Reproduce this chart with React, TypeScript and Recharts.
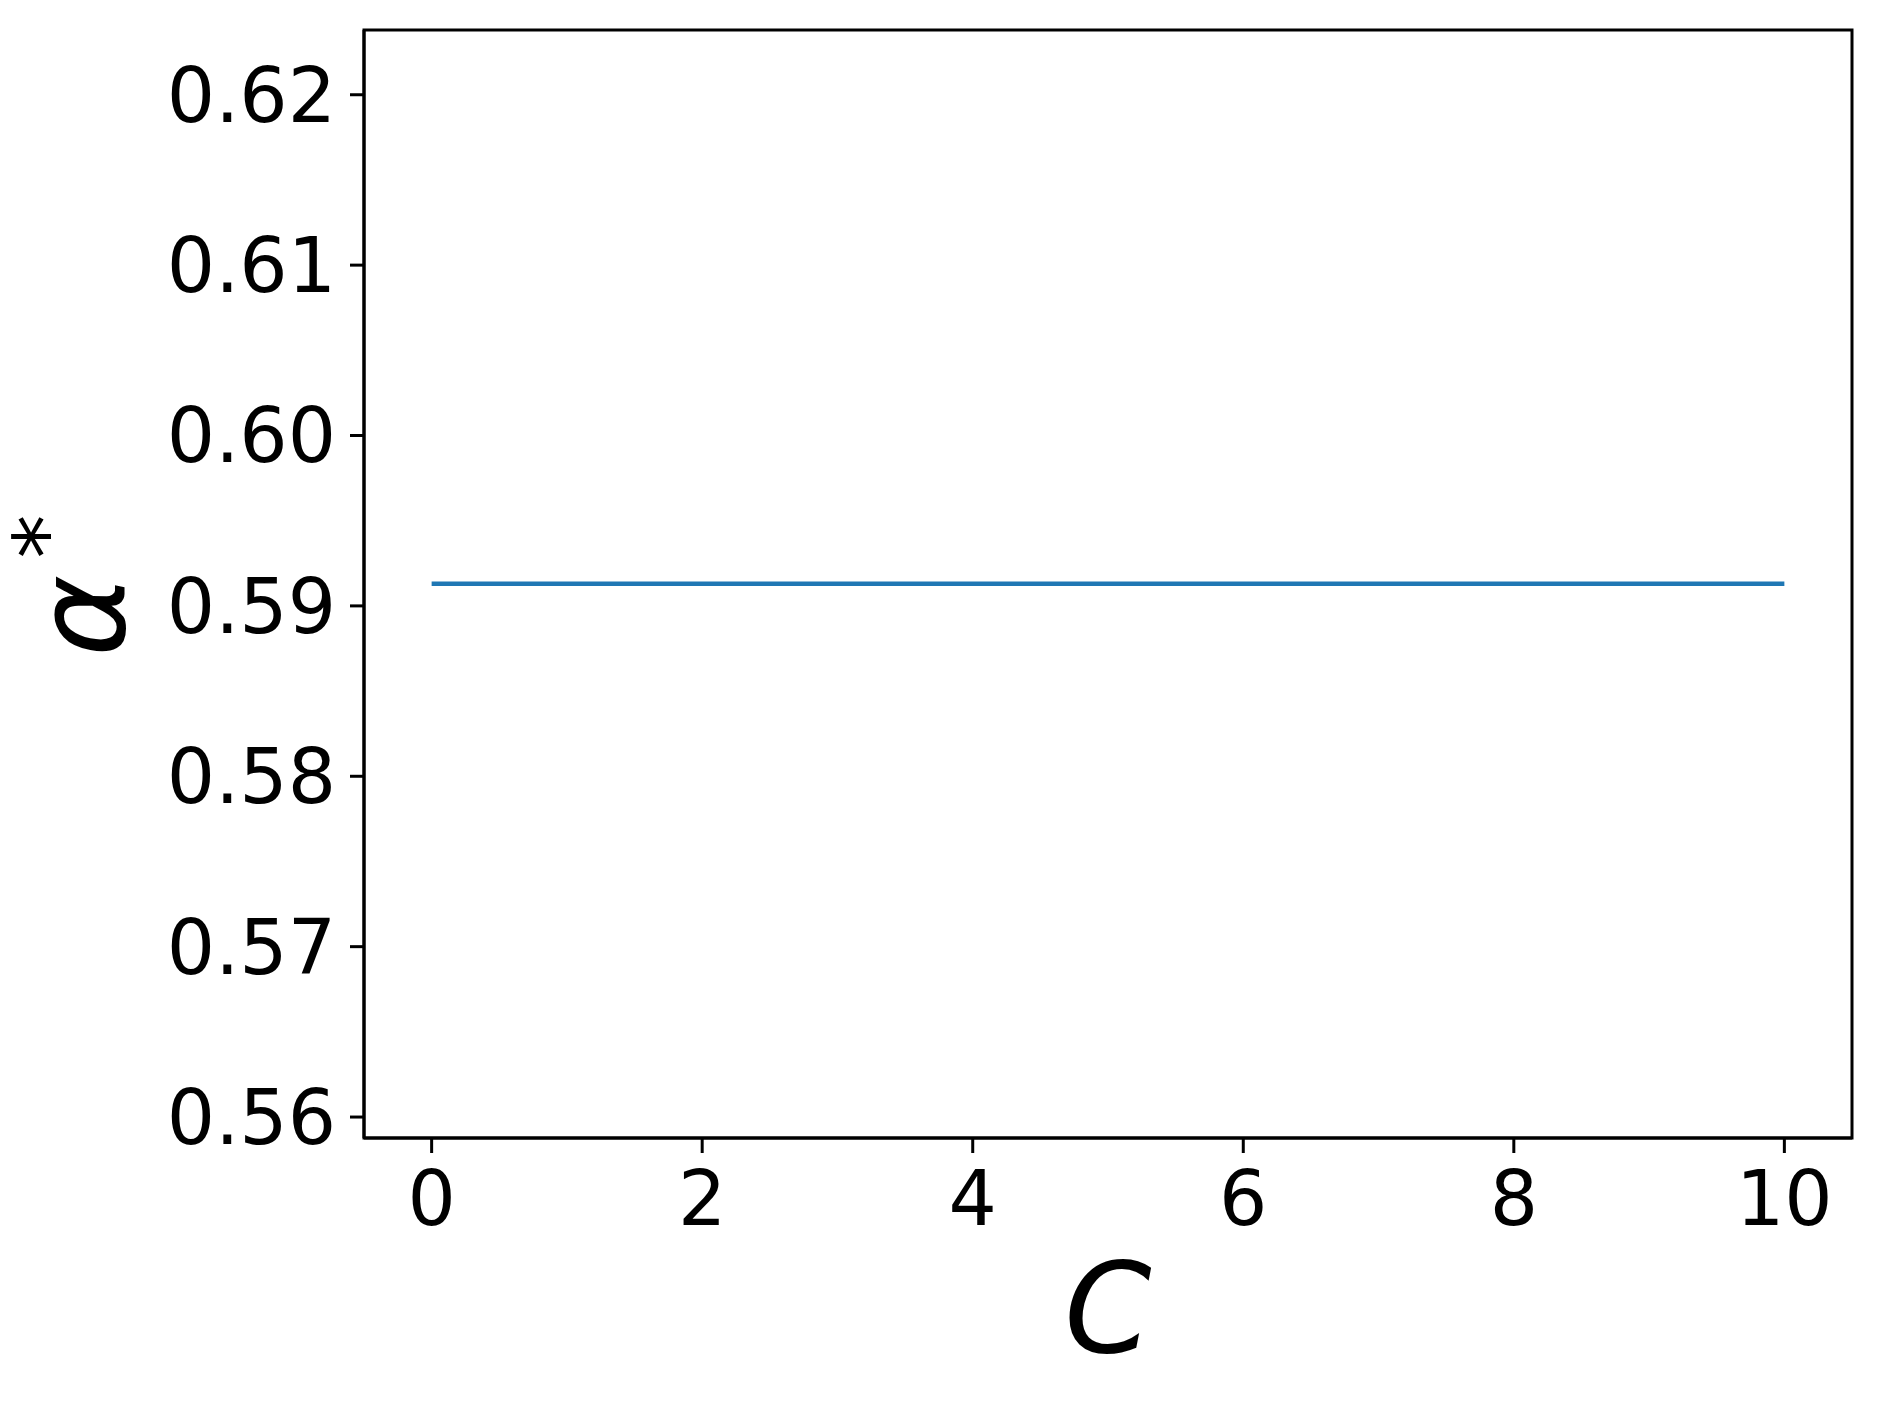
import { LineChart, Line, XAxis, YAxis, ReferenceArea } from "recharts"

const cValues = [0, 1, 2, 3, 4, 5, 6, 7, 8, 9, 10]
const alphaStar = [0.5913, 0.5913, 0.5913, 0.5913, 0.5913, 0.5913, 0.5913, 0.5913, 0.5913, 0.5913, 0.5913]
const xTicks = [0, 2, 4, 6, 8, 10]
const yTicks = [0.56, 0.57, 0.58, 0.59, 0.6, 0.61, 0.62]
const xDomain = [-0.5, 10.5]
const yDomain = [0.55877, 0.6238]

const FONT = "DejaVu Sans"

const data = cValues.map((c, i) => ({ c, alpha: alphaStar[i] }))

export default function App() {
  const tickStyle = { fill: "#000", fontSize: 76, fontFamily: FONT }

  return (
    <div style={{ width: 1881, height: 1408, position: "relative", background: "#fff" }}>
      <style>{`body { margin: 0; }`}</style>
      <LineChart
        width={1881}
        height={1408}
        data={data}
        margin={{ top: 30, right: 29, bottom: 70, left: 0 }}
      >
        <XAxis
          dataKey="c"
          type="number"
          domain={xDomain}
          ticks={xTicks}
          allowDataOverflow
          height={200}
          tickSize={15}
          tickMargin={18}
          tick={tickStyle}
          axisLine={{ stroke: "#000", strokeWidth: 3 }}
          tickLine={{ stroke: "#000", strokeWidth: 3 }}
        />
        <YAxis
          type="number"
          domain={yDomain}
          ticks={yTicks}
          allowDataOverflow
          width={364}
          tickSize={14}
          tickMargin={14}
          tickFormatter={(v: number) => v.toFixed(2)}
          tick={tickStyle}
          axisLine={{ stroke: "#000", strokeWidth: 3 }}
          tickLine={{ stroke: "#000", strokeWidth: 3 }}
        />
        <ReferenceArea
          x1={xDomain[0]}
          x2={xDomain[1]}
          y1={yDomain[0]}
          y2={yDomain[1]}
          fill="none"
          fillOpacity={0}
          stroke="#000"
          strokeWidth={3}
          ifOverflow="visible"
        />
        <Line
          dataKey="alpha"
          stroke="#1f77b4"
          strokeWidth={4.5}
          dot={false}
          isAnimationActive={false}
        />
      </LineChart>
      <svg
        width={1881}
        height={1408}
        style={{ position: "absolute", left: 0, top: 0, pointerEvents: "none" }}
      >
        <text
          x={1108}
          y={1352}
          textAnchor="middle"
          fontFamily={FONT}
          fontStyle="italic"
          fontSize={125}
          fill="#000"
        >
          C
        </text>
        <text
          x={124}
          y={657}
          transform="rotate(-90, 124, 657)"
          textAnchor="start"
          fontFamily={FONT}
          fontStyle="italic"
          fontSize={125}
          fill="#000"
        >
          α
          <tspan fontSize={88} fontStyle="normal" dx={16} dy={-48}>
            *
          </tspan>
        </text>
      </svg>
    </div>
  )
}
